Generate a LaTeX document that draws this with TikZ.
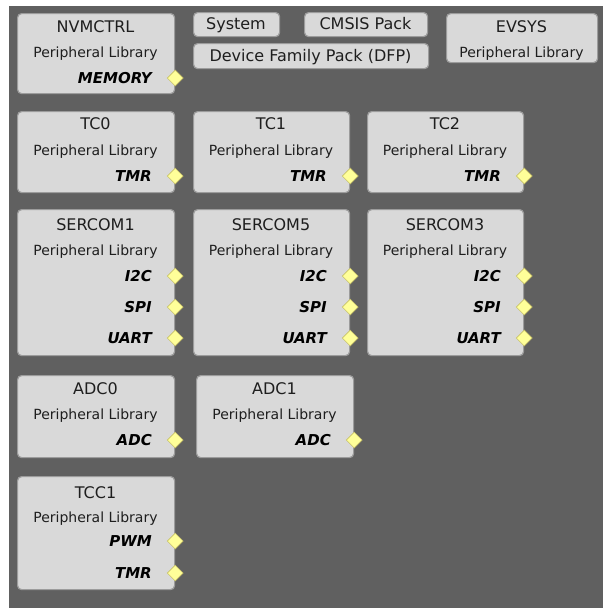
\documentclass[tikz,border=0pt]{standalone}
\usepackage{fontspec}
\setmainfont{DejaVu Sans}
\usetikzlibrary{shapes.geometric, positioning}

\definecolor{bgdark}{HTML}{606060}
\definecolor{boxfill}{HTML}{D9D9D9}
\definecolor{boxedge}{HTML}{9C9C9C}
\definecolor{pinfill}{HTML}{FFFF99}
\definecolor{pinedge}{HTML}{C8C26A}
\definecolor{txtdark}{HTML}{1E1E1E}

\tikzset{
  block/.style={draw=boxedge, fill=boxfill, line width=1.2pt, rounded corners=4pt,
                anchor=north west, inner sep=0pt},
  ttl/.style={text=txtdark, font=\fontsize{16}{18}\selectfont, inner sep=0pt, anchor=base},
  sub/.style={text=txtdark, font=\fontsize{14}{16}\selectfont, inner sep=0pt, anchor=base},
  plab/.style={text=black, font=\fontsize{15}{17}\selectfont\bfseries\itshape,
               inner sep=0pt, anchor=base east},
  pin/.style={diamond, draw=pinedge, fill=pinfill, line width=0.6pt,
              minimum width=16pt, minimum height=16pt, inner sep=0pt, yshift=5.5pt},
}

\begin{document}
\begin{tikzpicture}[x=1pt, y=-1pt]
\useasboundingbox (0,0) rectangle (603,608);
\fill[white] (0,0) rectangle (603,608);
\fill[bgdark] (9,6) rectangle (603,608);

% first row
\node[block, minimum width=157pt, minimum height=80pt] (nvm) at (17,13) {};
\node[ttl] (nvmT) at (95.5,32.5) {NVMCTRL};
\node[sub] (nvmS) at (95.5,57) {Peripheral Library};
\node[plab] (nvmMem) at (152,83.5) {MEMORY};
\node[pin] (nvmPin) at (nvm.east |- nvmMem.base) {};

\node[block, minimum width=86pt, minimum height=24pt] (sys) at (193,12) {};
\node[ttl] (sysT) at (236,29.5) {System};
\node[block, minimum width=123pt, minimum height=24pt] (cmsis) at (304,12) {};
\node[ttl] (cmsisT) at (365.5,29.5) {CMSIS Pack};
\node[block, minimum width=235pt, minimum height=25pt] (dfp) at (193,43) {};
\node[ttl] (dfpT) at (310.5,61) {Device Family Pack (DFP)};

\node[block, minimum width=151pt, minimum height=49pt] (evsys) at (446,13) {};
\node[ttl] (evsysT) at (521.5,32.5) {EVSYS};
\node[sub] (evsysS) at (521.5,57) {Peripheral Library};

% timers
\node[block, minimum width=157pt, minimum height=81pt] (tc0) at (17,111) {};
\node[ttl] (tc0T) at (95.5,129.5) {TC0};
\node[sub] (tc0S) at (95.5,155) {Peripheral Library};
\node[plab] (tc0Tmr) at (152,181.5) {TMR};
\node[pin] (tc0Pin) at (tc0.east |- tc0Tmr.base) {};

\node[block, minimum width=156pt, minimum height=81pt] (tc1) at (193,111) {};
\node[ttl] (tc1T) at (271,129.5) {TC1};
\node[sub] (tc1S) at (271,155) {Peripheral Library};
\node[plab] (tc1Tmr) at (327,181.5) {TMR};
\node[pin] (tc1Pin) at (tc1.east |- tc1Tmr.base) {};

\node[block, minimum width=156pt, minimum height=81pt] (tc2) at (367,111) {};
\node[ttl] (tc2T) at (445,129.5) {TC2};
\node[sub] (tc2S) at (445,155) {Peripheral Library};
\node[plab] (tc2Tmr) at (501,181.5) {TMR};
\node[pin] (tc2Pin) at (tc2.east |- tc2Tmr.base) {};

% serial
\node[block, minimum width=157pt, minimum height=146pt] (sc1) at (17,209) {};
\node[ttl] (sc1T) at (95.5,230.5) {SERCOM1};
\node[sub] (sc1S) at (95.5,255) {Peripheral Library};
\node[plab] (sc1I2c) at (152,281.5) {I2C};
\node[plab] (sc1Spi) at (152,312.5) {SPI};
\node[plab] (sc1Uart) at (152,343.5) {UART};
\node[pin] (sc1PinA) at (sc1.east |- sc1I2c.base) {};
\node[pin] (sc1PinB) at (sc1.east |- sc1Spi.base) {};
\node[pin] (sc1PinC) at (sc1.east |- sc1Uart.base) {};

\node[block, minimum width=156pt, minimum height=146pt] (sc5) at (193,209) {};
\node[ttl] (sc5T) at (271,230.5) {SERCOM5};
\node[sub] (sc5S) at (271,255) {Peripheral Library};
\node[plab] (sc5I2c) at (327,281.5) {I2C};
\node[plab] (sc5Spi) at (327,312.5) {SPI};
\node[plab] (sc5Uart) at (327,343.5) {UART};
\node[pin] (sc5PinA) at (sc5.east |- sc5I2c.base) {};
\node[pin] (sc5PinB) at (sc5.east |- sc5Spi.base) {};
\node[pin] (sc5PinC) at (sc5.east |- sc5Uart.base) {};

\node[block, minimum width=156pt, minimum height=146pt] (sc3) at (367,209) {};
\node[ttl] (sc3T) at (445,230.5) {SERCOM3};
\node[sub] (sc3S) at (445,255) {Peripheral Library};
\node[plab] (sc3I2c) at (501,281.5) {I2C};
\node[plab] (sc3Spi) at (501,312.5) {SPI};
\node[plab] (sc3Uart) at (501,343.5) {UART};
\node[pin] (sc3PinA) at (sc3.east |- sc3I2c.base) {};
\node[pin] (sc3PinB) at (sc3.east |- sc3Spi.base) {};
\node[pin] (sc3PinC) at (sc3.east |- sc3Uart.base) {};

% analog
\node[block, minimum width=157pt, minimum height=82pt] (adc0) at (17,375) {};
\node[ttl] (adc0T) at (95.5,394.5) {ADC0};
\node[sub] (adc0S) at (95.5,419) {Peripheral Library};
\node[plab] (adc0Adc) at (152,445.5) {ADC};
\node[pin] (adc0Pin) at (adc0.east |- adc0Adc.base) {};

\node[block, minimum width=157pt, minimum height=82pt] (adc1) at (196,375) {};
\node[ttl] (adc1T) at (274.5,394.5) {ADC1};
\node[sub] (adc1S) at (274.5,419) {Peripheral Library};
\node[plab] (adc1Adc) at (331,445.5) {ADC};
\node[pin] (adc1Pin) at (adc1.east |- adc1Adc.base) {};

% tcc
\node[block, minimum width=157pt, minimum height=113pt] (tcc1) at (17,476) {};
\node[ttl] (tcc1T) at (95.5,498.5) {TCC1};
\node[sub] (tcc1S) at (95.5,522) {Peripheral Library};
\node[plab] (tcc1Pwm) at (152,546.5) {PWM};
\node[plab] (tcc1Tmr) at (152,578.5) {TMR};
\node[pin] (tcc1PinA) at (tcc1.east |- tcc1Pwm.base) {};
\node[pin] (tcc1PinB) at (tcc1.east |- tcc1Tmr.base) {};
\end{tikzpicture}
\end{document}
